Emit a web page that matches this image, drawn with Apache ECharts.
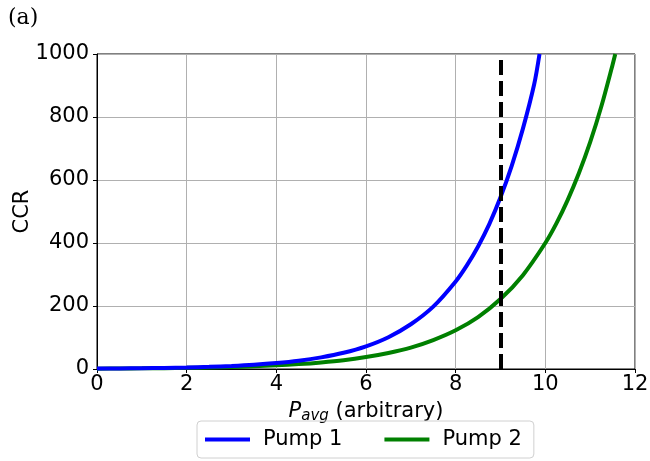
<!DOCTYPE html>
<html>
<head>
<meta charset="utf-8">
<title>CCR vs Pavg</title>
<script src="https://cdn.jsdelivr.net/npm/echarts@6/dist/echarts.min.js"></script>
<style>
    html, body { margin: 0; padding: 0; background: #fff; }
    #chart { width: 650px; height: 461px; }
</style>
</head>
<body>
<div id="chart"></div>
<script>
    // values
    var pump1X = [0, 0.5, 1, 1.5, 2, 2.5, 3, 3.5, 4, 4.5, 5, 5.5, 6, 6.5, 7, 7.5, 8, 8.25, 8.5, 8.75, 9, 9.25, 9.5, 9.75, 9.87];
    var pump1Y = [1.3, 1.8, 2.5, 3.5, 4.9, 6.8, 9.6, 13.4, 18.8, 26.3, 37, 51.5, 72, 101, 142, 198, 278, 329, 389, 460, 545, 645, 763, 903, 1000];
    var pump2X = [0, 0.5, 1, 1.5, 2, 2.5, 3, 3.5, 4, 4.5, 5, 5.5, 6, 6.5, 7, 7.5, 8, 8.5, 9, 9.5, 10, 10.25, 10.5, 10.75, 11, 11.25, 11.5, 11.56];
    var pump2Y = [1.1, 1.5, 2, 2.7, 3.6, 4.8, 6.5, 8.7, 11.6, 15.6, 21, 28, 38, 51, 68, 92, 123, 165, 222, 298, 400, 463, 537, 622, 720, 834, 966, 1000];
    var xTicks = [0, 2, 4, 6, 8, 10, 12];
    var yTicks = [0, 200, 400, 600, 800, 1000];
    var markX = 9;

    function pairs(xs, ys) {
        var out = [];
        for (var i = 0; i < xs.length; i++) out.push([xs[i], ys[i]]);
        return out;
    }

    var font = 'DejaVu Sans';
    var myChart = echarts.init(document.getElementById('chart'));
    var option = {
        backgroundColor: '#fff',
        animation: false,
        textStyle: { fontFamily: font },
        title: {
            text: '(a)',
            left: 3,
            top: 2,
            textStyle: { fontFamily: 'DejaVu Serif', fontWeight: 'normal', fontSize: 22, color: '#000' }
        },
        grid: {
            left: 97, right: 15, top: 54, bottom: 92,
            outerBoundsMode: 'none',
            containLabel: false,
            show: true, borderColor: '#000', borderWidth: 1, backgroundColor: 'transparent'
        },
        legend: {
            top: 421,
            left: 197,
            itemWidth: 45,
            itemHeight: 4,
            itemGap: 42,
            padding: [8, 12, 8, 8],
            borderColor: '#d0d0d0',
            borderWidth: 1,
            borderRadius: 4,
            textStyle: { fontFamily: font, fontSize: 21, color: '#000', padding: [0, 0, 0, 8] },
            data: [
                { name: 'Pump 1', icon: 'rect' },
                { name: 'Pump 2', icon: 'rect' }
            ]
        },
        xAxis: {
            type: 'value',
            min: xTicks[0],
            max: xTicks[xTicks.length - 1],
            interval: 2,
            name: '{i|P}{s|avg} (arbitrary)',
            nameLocation: 'middle',
            nameGap: 31,
            nameMoveOverlap: false,
            nameTextStyle: {
                fontFamily: font, fontSize: 21, color: '#000',
                rich: {
                    i: { fontFamily: font, fontStyle: 'italic', fontSize: 21, color: '#000' },
                    s: { fontFamily: font, fontStyle: 'italic', fontSize: 15, color: '#000', verticalAlign: 'bottom', padding: [9, 0, 0, 0] }
                }
            },
            axisLine: { show: true, lineStyle: { color: '#000', width: 1 } },
            axisTick: { show: true, inside: false, length: 4, lineStyle: { color: '#000' } },
            axisLabel: { fontFamily: font, fontSize: 21, color: '#000', margin: 5 },
            splitLine: { show: true, lineStyle: { color: '#b0b0b0', width: 1 } }
        },
        yAxis: {
            type: 'value',
            min: yTicks[0],
            max: yTicks[yTicks.length - 1],
            interval: 200,
            name: 'CCR',
            nameLocation: 'middle',
            nameGap: 64,
            nameMoveOverlap: false,
            nameTextStyle: { fontFamily: font, fontSize: 21, color: '#000' },
            axisLine: { show: true, lineStyle: { color: '#000', width: 1 } },
            axisTick: { show: true, inside: false, length: 4, lineStyle: { color: '#000' } },
            axisLabel: {
                fontFamily: font, fontSize: 21, color: '#000', margin: 8,
                formatter: function (v) { return String(v); }
            },
            splitLine: { show: true, lineStyle: { color: '#b0b0b0', width: 1 } }
        },
        series: [
            {
                name: 'Pump 1',
                type: 'line',
                data: pairs(pump1X, pump1Y),
                showSymbol: false,
                smooth: 0.3,
                clip: true,
                color: '#0000ff',
                lineStyle: { color: '#0000ff', width: 4 },
                z: 3,
                markLine: {
                    silent: true,
                    symbol: ['none', 'none'],
                    label: { show: false },
                    lineStyle: { color: '#000', width: 4, type: [15, 6] },
                    data: [{ xAxis: markX }]
                }
            },
            {
                name: 'Pump 2',
                type: 'line',
                data: pairs(pump2X, pump2Y),
                showSymbol: false,
                smooth: 0.3,
                clip: true,
                color: '#008000',
                lineStyle: { color: '#008000', width: 4 },
                z: 2
            }
        ]
    };
    myChart.setOption(option);
</script>
</body>
</html>
